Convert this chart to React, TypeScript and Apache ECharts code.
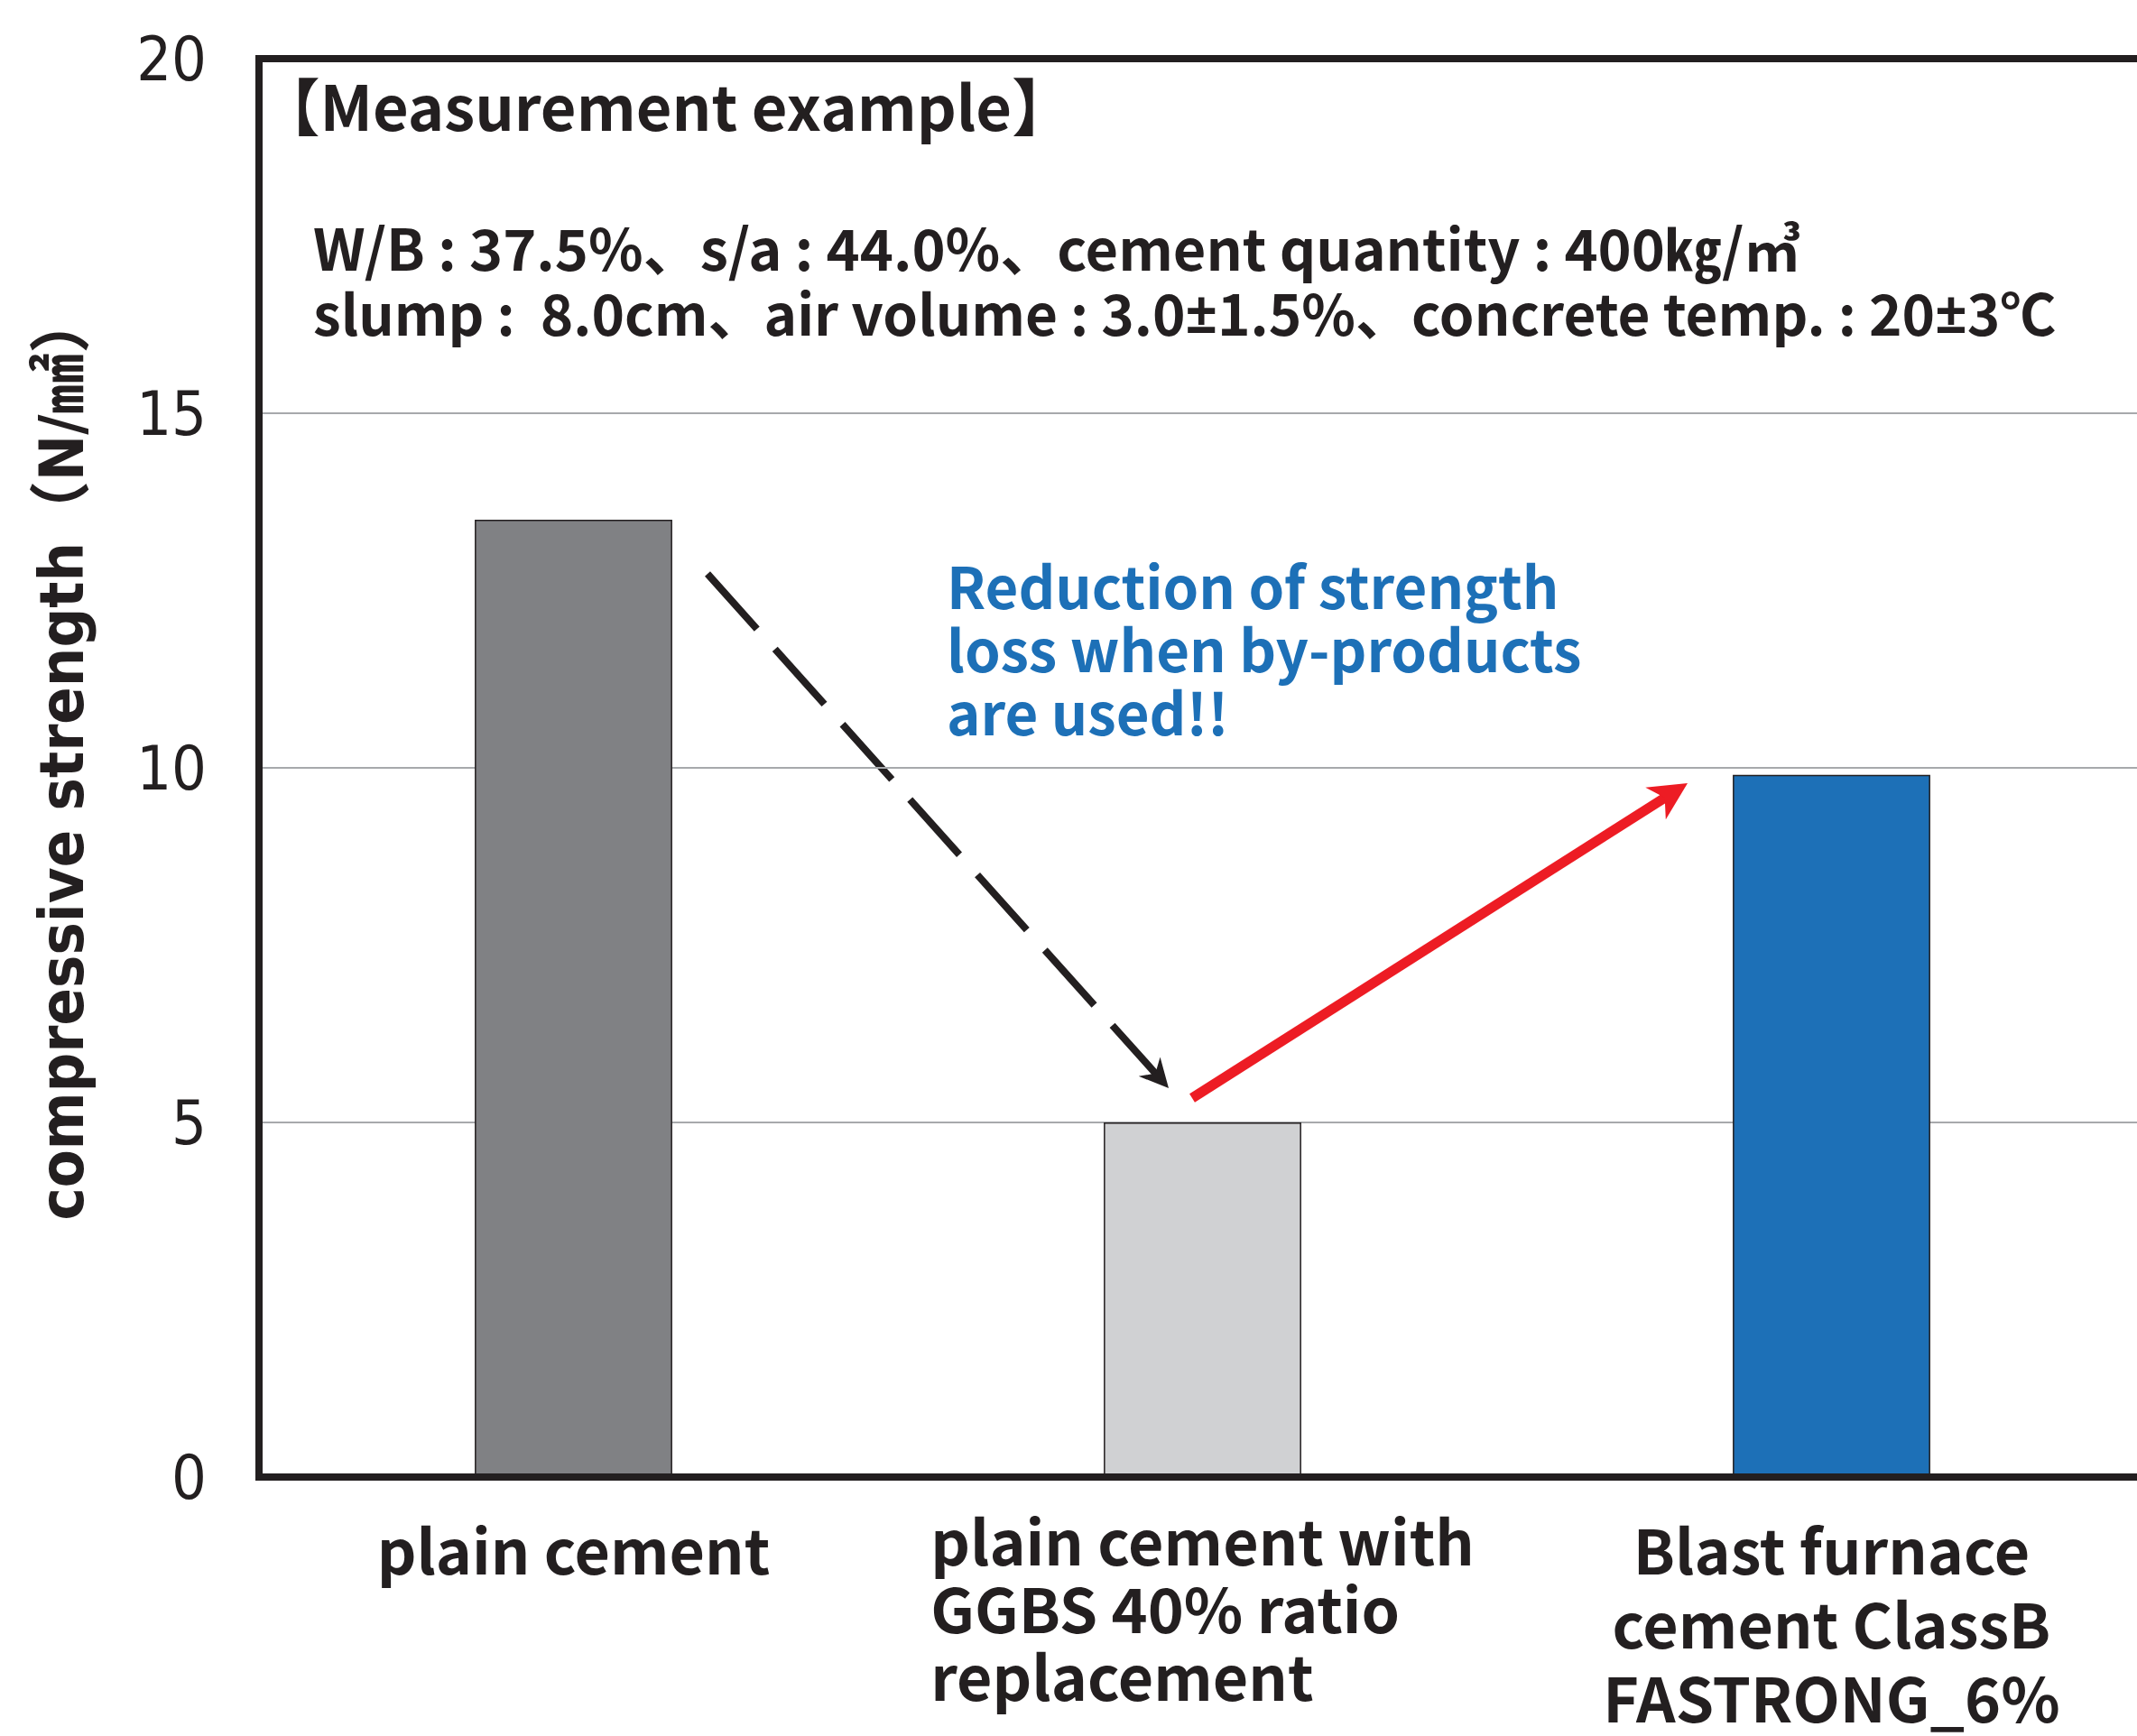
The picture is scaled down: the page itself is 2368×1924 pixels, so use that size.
import React, { useEffect, useRef } from "react";
import * as echarts from "echarts";

const categories = [
  "plain cement",
  "plain cement with\nGGBS 40% ratio\nreplacement",
  "Blast furnace\ncement ClassB\nFASTRONG_6%",
];
const strengthValues = [13.5, 5.0, 9.9];
const barColors = ["#808184", "#d0d1d3", "#1d70b7"];
const yMin = 0;
const yMax = 20;
const yInterval = 5;

const titleText = "【Measurement example】";
const conditionLine1 = "W/B : 37.5%、s/a : 44.0%、cement quantity : 400㎏/㎥";
const conditionLine2 = "slump :  8.0cm、air volume : 3.0{pm|±}1.5%、concrete temp. : 20{pm|±}3℃";
const noteLines = ["Reduction of strength", "loss when by-products", "are used!!"];
const yAxisName = "compressive strength（N/㎟）";

const JP = "'Noto Sans CJK JP', 'Noto Sans', sans-serif";
const LATIN = "'Noto Sans', 'DejaVu Sans', sans-serif";
const NARROW = "'Liberation Sans Narrow', 'DejaVu Sans Condensed', 'Noto Sans CJK JP', sans-serif";

function arrowHead(
  x1: number,
  y1: number,
  x2: number,
  y2: number,
  len: number,
  half: number,
  notch: number
) {
  const dx = x2 - x1;
  const dy = y2 - y1;
  const d = Math.sqrt(dx * dx + dy * dy);
  const ux = dx / d;
  const uy = dy / d;
  const bx = x2 - ux * len;
  const by = y2 - uy * len;
  const nx = x2 - ux * notch;
  const ny = y2 - uy * notch;
  return [
    [x2, y2],
    [bx - uy * half, by + ux * half],
    [nx, ny],
    [bx + uy * half, by - ux * half],
  ];
}

function shorten(x1: number, y1: number, x2: number, y2: number, by: number) {
  const dx = x2 - x1;
  const dy = y2 - y1;
  const d = Math.sqrt(dx * dx + dy * dy);
  return [x2 - (dx / d) * by, y2 - (dy / d) * by];
}

export default function App() {
  const ref = useRef<HTMLDivElement>(null);
  useEffect(() => {
    if (!ref.current) return;
    const chart = echarts.init(ref.current, undefined, { renderer: "svg" });

    const bk = { x1: 784, y1: 636, x2: 1295, y2: 1206 };
    const rd = { x1: 1321, y1: 1217, x2: 1870, y2: 868 };
    const bkEnd = shorten(bk.x1, bk.y1, bk.x2, bk.y2, 20);
    const rdEnd = shorten(rd.x1, rd.y1, rd.x2, rd.y2, 28);

    const labelBase = {
      fontFamily: JP,
      fontWeight: "bold",
      fontSize: 68,
      color: "#231f20",
    };

    chart.setOption({
      animation: false,
      backgroundColor: "#ffffff",
      grid: {
        left: 287,
        top: 65,
        bottom: 287,
        right: -10,
        outerBoundsMode: "none",
        containLabel: false,
        show: true,
        borderColor: "#231f20",
        borderWidth: 8,
        backgroundColor: "transparent",
        z: 10,
      },
      xAxis: {
        type: "category",
        data: categories.map((c, i) => ({
          value: c,
          textStyle: i === 1 ? { lineHeight: 75 } : { lineHeight: 82, padding: [6, 0, 0, 0] },
        })),
        axisLine: { show: false },
        axisTick: { show: false },
        axisLabel: {
          margin: 31,
          interval: 0,
          ...labelBase,
          lineHeight: 82,
          formatter: (value: string, index: number) =>
            index === 1
              ? value
                  .split("\n")
                  .map((l) => `{l|${l}}`)
                  .join("\n")
              : value,
          rich: {
            l: {
              align: "left",
              ...labelBase,
              lineHeight: 75,
            },
          },
        },
      },
      yAxis: {
        type: "value",
        min: yMin,
        max: yMax,
        interval: yInterval,
        name: yAxisName,
        nameLocation: "middle",
        nameGap: 185,
        nameRotate: 90,
        nameTextStyle: {
          fontFamily: NARROW,
          fontWeight: "bold",
          fontSize: 68,
          color: "#231f20",
          padding: [0, 0, 0, 26],
        },
        axisLine: { show: false },
        axisTick: { show: false },
        axisLabel: {
          margin: 58,
          fontFamily: NARROW,
          fontSize: 68,
          color: "#231f20",
        },
        splitLine: { show: true, lineStyle: { color: "#a7a9ac", width: 2 } },
      },
      series: [
        {
          type: "bar",
          barWidth: "31.4%",
          data: strengthValues.map((v, i) => ({
            value: v,
            itemStyle: { color: barColors[i] },
          })),
          itemStyle: { borderColor: "#231f20", borderWidth: 1.5 },
        },
      ],
      graphic: [
        {
          type: "text",
          x: 286,
          y: 115,
          style: {
            text: titleText,
            fill: "#231f20",
            fontFamily: JP,
            fontWeight: "bold",
            fontSize: 68.5,
            textAlign: "left",
            textVerticalAlign: "middle",
          },
        },
        {
          type: "text",
          x: 347,
          y: 272,
          style: {
            text: conditionLine1,
            fill: "#231f20",
            fontFamily: JP,
            fontWeight: "bold",
            fontSize: 63,
            textAlign: "left",
            textVerticalAlign: "middle",
          },
        },
        {
          type: "text",
          x: 347,
          y: 345,
          style: {
            text: conditionLine2,
            fill: "#231f20",
            fontFamily: JP,
            fontWeight: "bold",
            fontSize: 62,
            textAlign: "left",
            textVerticalAlign: "middle",
            rich: {
              pm: {
                fontFamily: LATIN,
                fontWeight: "bold",
                fontSize: 62,
                fill: "#231f20",
              },
            },
          },
        },
        {
          type: "text",
          x: 1049,
          y: 717,
          style: {
            text: noteLines.join("\n"),
            fill: "#1d70b7",
            fontFamily: JP,
            fontWeight: "bold",
            fontSize: 63.5,
            lineHeight: 70,
            textAlign: "left",
            textVerticalAlign: "middle",
          },
        },
        {
          type: "line",
          shape: { x1: bk.x1, y1: bk.y1, x2: bkEnd[0], y2: bkEnd[1] },
          style: { stroke: "#231f20", lineWidth: 8, lineDash: [82, 30] },
        },
        {
          type: "polygon",
          shape: { points: arrowHead(bk.x1, bk.y1, bk.x2, bk.y2, 32, 16, 22) },
          style: { fill: "#231f20" },
        },
        {
          type: "line",
          shape: { x1: rd.x1, y1: rd.y1, x2: rdEnd[0], y2: rdEnd[1] },
          style: { stroke: "#ed1c24", lineWidth: 11 },
        },
        {
          type: "polygon",
          shape: { points: arrowHead(rd.x1, rd.y1, rd.x2, rd.y2, 42, 21, 30) },
          style: { fill: "#ed1c24" },
        },
      ],
    });
    return () => chart.dispose();
  }, []);
  return (
    <div
      ref={ref}
      style={{ position: "absolute", left: 0, top: 0, width: 2368, height: 1924 }}
    />
  );
}
